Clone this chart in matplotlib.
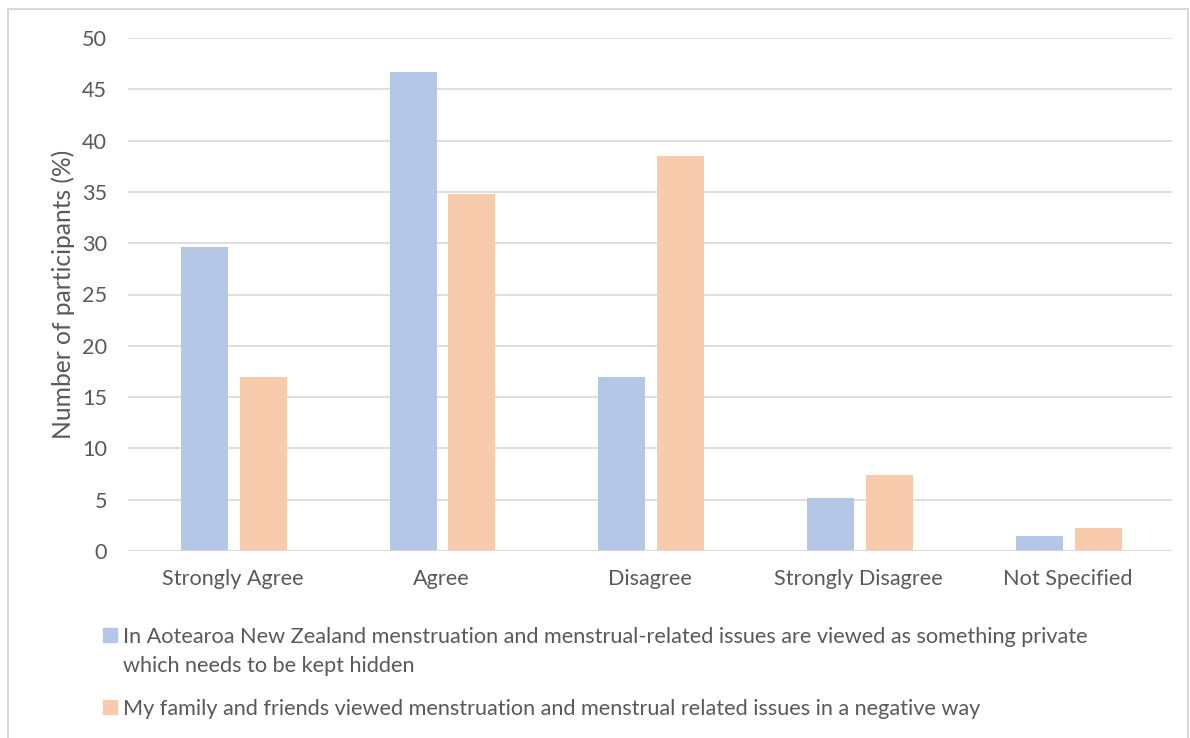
import matplotlib.pyplot as plt
from matplotlib.patches import Rectangle
import numpy as np

categories = ["Strongly Agree", "Agree", "Disagree", "Strongly Disagree", "Not Specified"]
private_hidden = [29.6, 46.7, 17.0, 5.2, 1.5]
family_negative = [17.0, 34.8, 38.5, 7.4, 2.2]
series_labels = [
    "In Aotearoa New Zealand menstruation and menstrual-related issues are viewed as something private\nwhich needs to be kept hidden",
    "My family and friends viewed menstruation and menstrual related issues in a negative way",
]
yticks = list(range(0, 51, 5))

BLUE = "#B4C7E7"
ORANGE = "#F8CBAD"
TEXT = "#595959"
GRID = "#D9D9D9"

plt.rcParams['font.family'] = ['Lato', 'DejaVu Sans']

W, H = 1190, 738
fig = plt.figure(figsize=(W / 100, H / 100), dpi=100)
ax = fig.add_axes([128 / W, 1 - 551 / H, (1172 - 128) / W, (551 - 38) / H])

x = np.arange(len(categories))
w = 0.225
off = 0.143
ax.bar(x - off + 0.008, private_hidden, width=w, color=BLUE, zorder=3)
ax.bar(x + off + 0.004, family_negative, width=w, color=ORANGE, zorder=3)

ax.set_xlim(-0.5, len(categories) - 0.5)
ax.set_ylim(0, 50)
ax.set_yticks(yticks)
ax.set_xticks(x)
ax.set_xticklabels(categories)
ax.tick_params(axis='both', length=0, labelsize=15.6, labelcolor=TEXT)
ax.tick_params(axis='x', pad=13)
ax.tick_params(axis='y', pad=15)
ax.grid(axis='y', color=GRID, linewidth=1.2, zorder=0)
for s in ax.spines.values():
    s.set_visible(False)
ax.axhline(0, color=GRID, linewidth=1.2, zorder=4)
ax.set_ylabel("Number of participants (%)", fontsize=17.7, color=TEXT, labelpad=5)

# legend drawn by hand so the swatch sits on the first text line
colors = [BLUE, ORANGE]
baselines = [643, 715]
for c, base, lab in zip(colors, baselines, series_labels):
    fig.patches.append(Rectangle((103 / W, 1 - (base - 1) / H), 14 / W, 14 / H,
                                 transform=fig.transFigure, color=c))
    for i, line in enumerate(lab.split("\n")):
        fig.text(123 / W, 1 - (base + 29 * i) / H, line, fontsize=15.6,
                 color=TEXT, va='baseline', ha='left')

# outer chart border
fig.patches.append(Rectangle((8 / W, -0.01), (1188 - 8) / W, 1 - 9 / H + 0.01,
                             transform=fig.transFigure, fill=False,
                             edgecolor=GRID, linewidth=1.5))

fig.savefig("out.png", dpi=100)
